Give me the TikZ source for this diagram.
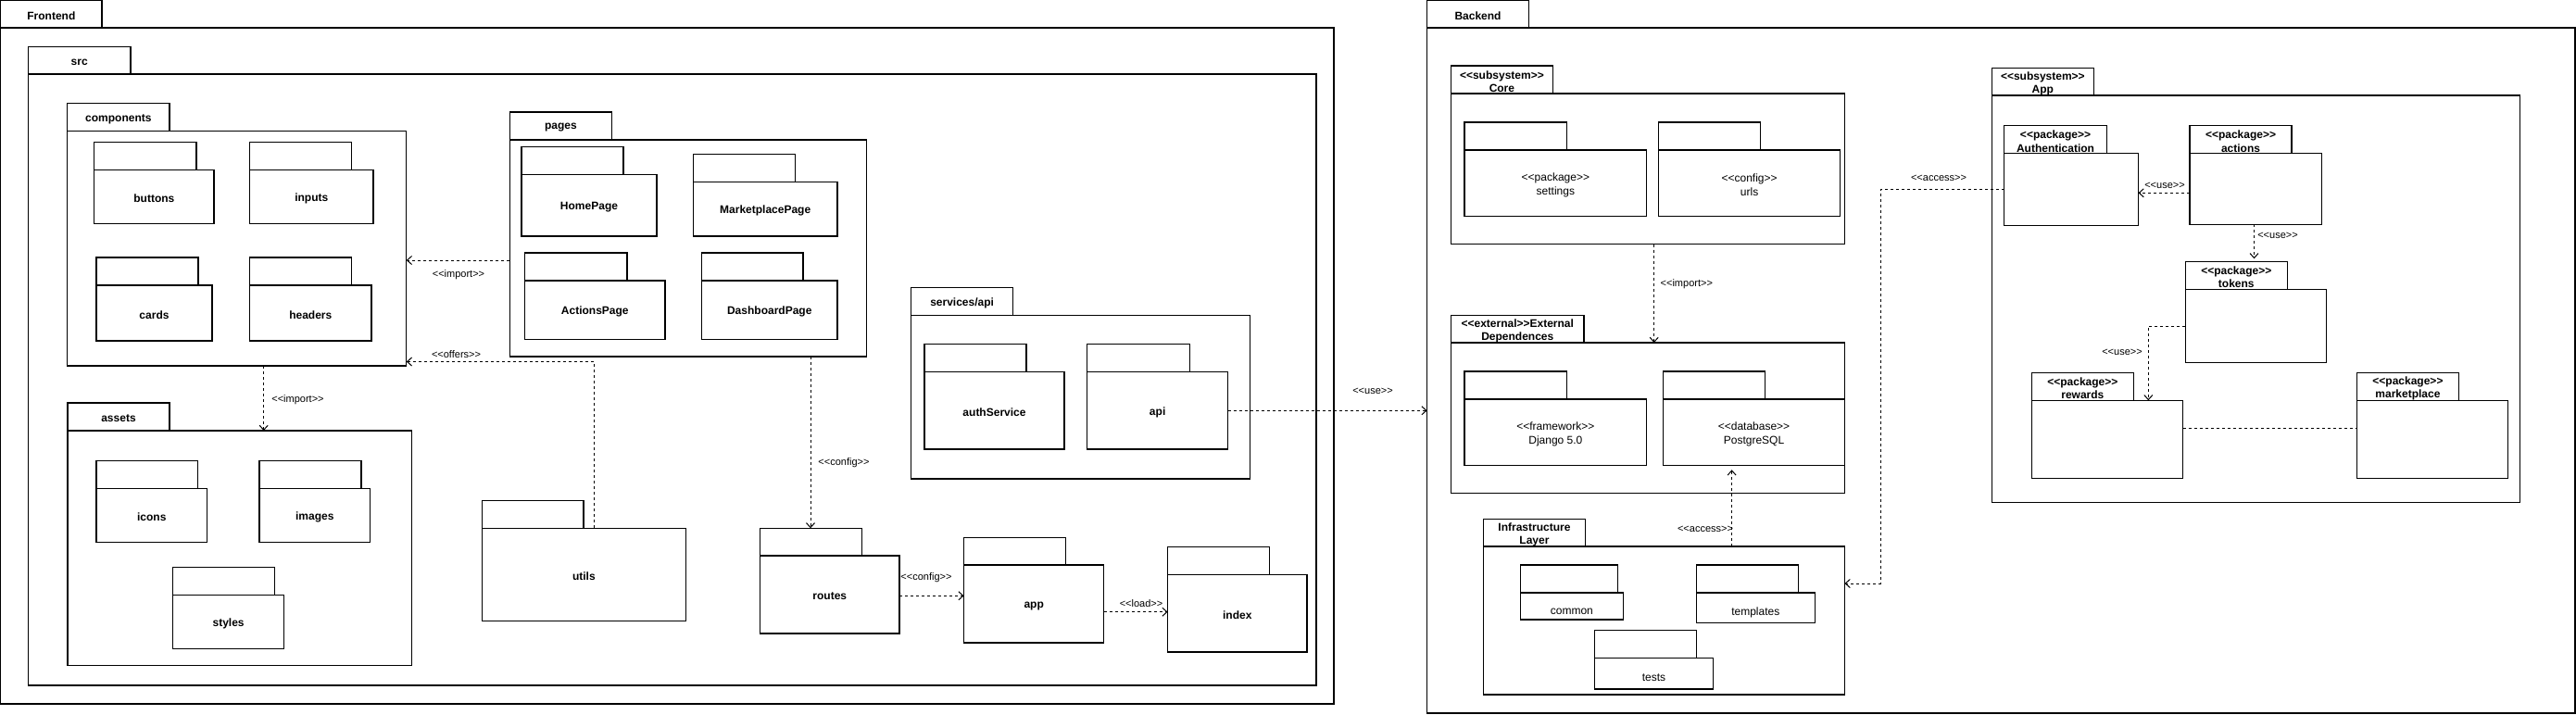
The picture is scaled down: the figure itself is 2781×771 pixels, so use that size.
\documentclass[tikz,border=0pt]{standalone}
\usepackage{fontspec}
\newfontfamily\af{Liberation Sans}
\usetikzlibrary{arrows.meta}
\tikzset{
  frame/.style={draw, line width=1.1pt, inner sep=0pt, outer sep=0pt, anchor=north west},
  tabtext/.style={font=\af\bfseries\fontsize{12}{14.5}\selectfont, align=center, inner sep=0pt, yshift=-2pt},
  bodytext/.style={font=\af\fontsize{12}{14.5}\selectfont, align=center, inner sep=0pt, yshift=-2pt},
  dep/.style={line width=1pt, dash pattern=on 3pt off 3pt, -{Straight Barb[length=5pt,width=9pt,line width=1pt]}},
  assoc/.style={line width=1pt, dash pattern=on 3pt off 3pt},
  lbl/.style={font=\af\fontsize{11}{13}\selectfont, inner sep=0pt},
}
% name, x1, ytop, tab x2, tab ybottom, body x2, body ybottom, tab text, body text
\newcommand{\pkg}[9]{%
  \node[frame, minimum width={(#4-#2)*1pt}, minimum height={(#5-#3)*1pt},
        label={[tabtext]center:#8}] (#1-tab) at (#2,#3) {};
  \node[frame, minimum width={(#6-#2)*1pt}, minimum height={(#7-#5)*1pt},
        label={[bodytext]center:#9}] (#1) at (#2,#5) {};
}
\begin{document}
\begin{tikzpicture}[x=1pt, y=-1pt]
\useasboundingbox (0,0) rectangle (2781,771);
\fill[white] (0,0) rectangle (2781,771);

% ---------------- Frontend ----------------
\pkg{frontend}{0.7}{0.7}{110}{30}{1440}{760}{Frontend}{}
\pkg{src}{30.5}{50.7}{141}{80}{1421}{740}{src}{}
\pkg{components}{72.8}{111.7}{183}{141.7}{438.8}{395}{components}{}
\pkg{buttons}{101.8}{153.3}{212}{183.3}{231}{241.7}{}{\bfseries buttons}
\pkg{inputs}{269.6}{153.3}{379.5}{183.3}{403}{241.7}{}{\bfseries inputs}
\pkg{cards}{104}{278}{214}{308}{229}{368}{}{\bfseries cards}
\pkg{headers}{269.6}{278}{379.5}{308}{401}{368}{}{\bfseries headers}
\pkg{assets}{73}{435}{183}{465}{444.4}{718.3}{assets}{}
\pkg{icons}{104}{497.7}{213.8}{527.7}{223.5}{585.7}{}{\bfseries icons}
\pkg{images}{280}{497.7}{390}{527.7}{399.5}{585.7}{}{\bfseries images}
\pkg{styles}{186.7}{612.3}{296.4}{642.3}{306.6}{700.3}{}{\bfseries styles}
\pkg{pages}{550.3}{121}{660.6}{151}{935.6}{385}{pages}{}
\pkg{homepage}{563}{158.7}{673}{188.7}{709}{255}{}{\bfseries HomePage}
\pkg{marketplacepage}{748.4}{166.7}{858.7}{196.7}{904}{255}{}{\bfseries MarketplacePage}
\pkg{actionspage}{566.6}{273}{677}{303}{718}{366.7}{}{\bfseries ActionsPage}
\pkg{dashboardpage}{757.5}{273}{867}{303}{904}{366.7}{}{\bfseries DashboardPage}
\pkg{services}{983.5}{310.7}{1093.8}{340.7}{1349.5}{517}{services/api}{}
\pkg{authservice}{998}{371.7}{1108}{401.7}{1149}{485}{}{\bfseries authService}
\pkg{api}{1173.8}{371.7}{1284.6}{401.7}{1325.5}{485}{}{\bfseries api}
\pkg{utils}{520.4}{540.3}{630}{570.3}{740.3}{670.3}{}{\bfseries utils}
\pkg{routes}{820.6}{570.3}{930.3}{600}{971}{684}{}{\bfseries routes}
\pkg{app}{1040.6}{580.3}{1150.3}{610}{1191.8}{694}{}{\bfseries app}
\pkg{index}{1260.6}{590.3}{1370.3}{620.3}{1411}{704}{}{\bfseries index}

% ---------------- Backend ----------------
\pkg{backend}{1540.6}{0.7}{1650.4}{30}{2780}{770}{Backend}{}
\pkg{core}{1566.5}{71}{1676.3}{101}{1991.5}{263.7}{<<subsystem>>\\Core}{}
\pkg{settings}{1581}{132}{1691.5}{162}{1777.7}{233.3}{}{<<package>>\\settings}
\pkg{urls}{1790.6}{132}{1900.4}{162}{1986.6}{233.3}{}{<<config>>\\urls}
\pkg{external}{1566.5}{340.3}{1710}{370}{1991.5}{532.7}{<<external>>External\\Dependences}{}
\pkg{django}{1581}{401}{1691.5}{431}{1777.7}{502.3}{}{<<framework>>\\Django 5.0}
\pkg{postgres}{1795.5}{401}{1905.3}{431}{1991.5}{502.3}{}{<<database>>\\PostgreSQL}
\pkg{infra}{1601.3}{560.3}{1711.6}{590}{1991.5}{750}{Infrastructure\\Layer}{}
\pkg{common}{1641.5}{610}{1746.4}{640}{1752.2}{669}{}{\smash{\raisebox{-7pt}{common}}}
\pkg{templates}{1831.2}{610}{1941.5}{640}{1959.3}{672.3}{}{\smash{\raisebox{-6.6pt}{templates}}}
\pkg{tests}{1721.4}{680.3}{1831.2}{710.3}{1849.5}{744}{}{\smash{\raisebox{-6.2pt}{tests}}}
\pkg{appsub}{2150.4}{73.3}{2260.3}{103}{2720.2}{542.7}{<<subsystem>>\\App}{}
\pkg{authentication}{2163.8}{135.7}{2274.2}{165.7}{2308.5}{243.3}{<<package>>\\Authentication}{}
\pkg{actions}{2364}{135.7}{2474}{165.7}{2506.5}{242.3}{<<package>>\\actions}{}
\pkg{tokens}{2359.3}{282.3}{2469.2}{312.3}{2511.3}{391.3}{<<package>>\\tokens}{}
\pkg{rewards}{2193.4}{402.3}{2303.3}{432.3}{2356.7}{516.7}{<<package>>\\rewards}{}
\pkg{marketplace}{2544.3}{402.3}{2654.6}{432.3}{2707.6}{516.7}{<<package>>\\marketplace}{}

% ---------------- Connectors ----------------
\draw[dep] (pages.west |- 0,281) -- (components.east |- 0,281);
\node[lbl] (l1) at (495,296.7) {<<import>>};
\draw[dep] (utils.north -| 641,0) |- (components.east |- 0,390.5);
\node[lbl] (l2) at (492.5,382.3) {<<offers>>};
\draw[dep] (components.south -| 284.7,0) -- (assets.north -| 284.7,0);
\node[lbl] (l3) at (321.5,431.7) {<<import>>};
\draw[dep] (pages.south -| 875,0) -- (routes-tab.north -| 875,0);
\node[lbl] (l4) at (911,500) {<<config>>};
\draw[dep] (routes.east |- 0,643.3) -- (app.west |- 0,643.3);
\node[lbl] (l5) at (1000,623.3) {<<config>>};
\draw[dep] (app.east |- 0,660.7) -- (index.west |- 0,660.7);
\node[lbl] (l6) at (1232,651.7) {<<load>>};
\draw[dep] (api.east |- 0,443.3) -- (backend.west |- 0,443.3);
\node[lbl] (l7) at (1482,422.7) {<<use>>};
\draw[dep] (core.south -| 1785.7,0) -- (external.north -| 1785.7,0);
\node[lbl] (l8) at (1820.8,306.7) {<<import>>};
\draw[dep] (authentication.west |- 0,204.7) -- (2030,204.7) |- (infra.east |- 0,630);
\node[lbl] (l9) at (2093,192.3) {<<access>>};
\draw[dep, shorten >=5pt] (infra.north -| 1869.6,0) -- (postgres.south -| 1869.6,0);
\node[lbl] (l10) at (1841,571) {<<access>>};
\draw[dep] (actions.west |- 0,208.3) -- (authentication.east |- 0,208.3);
\node[lbl] (l11) at (2337,200) {<<use>>};
\draw[dep, shorten >=3pt] (actions.south -| 2433.5,0) -- (tokens-tab.north -| 2433.5,0);
\node[lbl] (l12) at (2459,254) {<<use>>};
\draw[dep] (tokens.west |- 0,352.3) -| (rewards.north -| 2319.3,0);
\node[lbl] (l13) at (2291,380.7) {<<use>>};
\draw[assoc] (rewards.east |- 0,462.7) -- (marketplace.west |- 0,462.7);
\end{tikzpicture}
\end{document}
